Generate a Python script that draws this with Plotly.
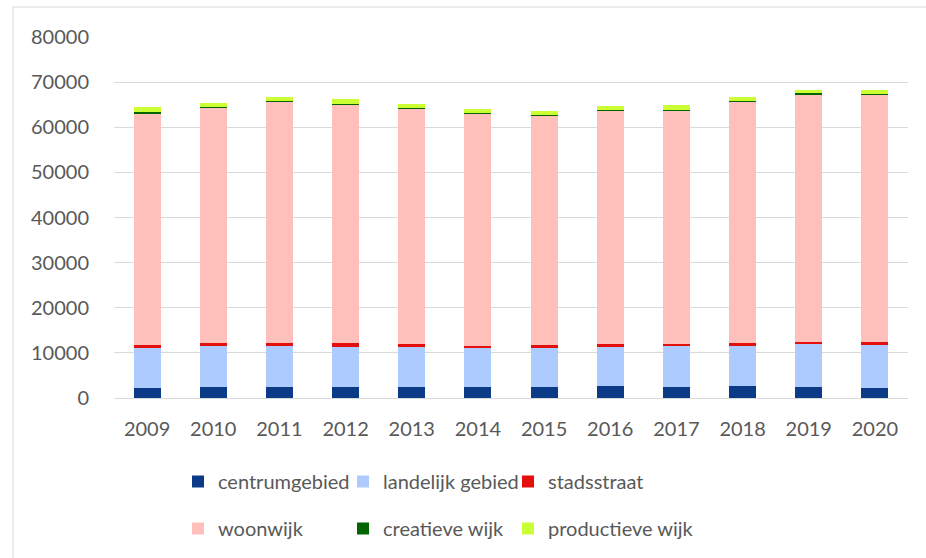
import plotly.graph_objects as go

# Jaren en waarden per gebiedstype
years = ["2009", "2010", "2011", "2012", "2013", "2014",
         "2015", "2016", "2017", "2018", "2019", "2020"]

centrumgebied = [2200, 2350, 2350, 2350, 2350, 2350, 2420, 2570, 2500, 2570, 2500, 2280]
landelijk_gebied = [8900, 9100, 9100, 9030, 8890, 8670, 8680, 8890, 8960, 9030, 9480, 9410]
stadsstraat = [700, 660, 660, 740, 660, 580, 590, 440, 590, 520, 510, 650]
woonwijk = [51340, 52240, 53570, 52990, 52240, 51510, 50980, 51880, 51730, 53660, 54840, 54990]
creatieve_wijk = [150, 100, 100, 100, 100, 150, 150, 100, 100, 100, 200, 100]
productieve_wijk = [1100, 1000, 950, 1000, 950, 800, 870, 850, 1080, 850, 700, 790]

# legenda in 3 kolommen (elke kolom een eigen verticale legenda)
series = [
    ("centrumgebied", centrumgebied, "#0B3A87", "legend"),
    ("landelijk gebied", landelijk_gebied, "#ADCBFF", "legend2"),
    ("stadsstraat", stadsstraat, "#E3100D", "legend3"),
    ("woonwijk", woonwijk, "#FFC0BB", "legend"),
    ("creatieve wijk", creatieve_wijk, "#006400", "legend2"),
    ("productieve wijk", productieve_wijk, "#CCFF33", "legend3"),
]

W, H = 926, 558
ml, mr, mt, mb = 114, 18, 37, 160
pw, ph = W - ml - mr, H - mt - mb

fig = go.Figure()
for name, vals, color, leg in series:
    fig.add_trace(go.Bar(
        x=years, y=vals, name=name,
        marker=dict(color=color, line=dict(width=0)),
        legend=leg, legendgroup=name,
    ))

font = dict(family="Lato", size=20, color="#595959")
leg_common = dict(
    orientation="v", xref="container", yref="container",
    xanchor="left", yanchor="middle", y=1 - 505 / H,
    itemwidth=30, font=font, bgcolor="rgba(0,0,0,0)",
    traceorder="grouped", tracegroupgap=18,
)

fig.update_layout(
    width=W, height=H,
    barmode="stack",
    bargap=0.59,
    plot_bgcolor="white",
    paper_bgcolor="white",
    font=font,
    margin=dict(l=ml, r=mr, t=mt, b=mb, autoexpand=False),
    xaxis=dict(
        showgrid=False, showline=False, ticks="",
        ticklabelstandoff=17, tickfont=font,
    ),
    yaxis=dict(
        range=[0, 80000], dtick=10000, tickformat="d",
        showgrid=True, gridcolor="#D9D9D9", gridwidth=1,
        zeroline=True, zerolinecolor="#D9D9D9", zerolinewidth=1,
        showline=False, ticks="", ticklabelstandoff=24, tickfont=font,
    ),
    legend=dict(x=178 / W, **leg_common),
    legend2=dict(x=343 / W, **leg_common),
    legend3=dict(x=508 / W, **leg_common),
    shapes=[dict(
        type="rect", xref="paper", yref="paper", layer="below",
        x0=(13 - ml) / pw, x1=(W + 5 - ml) / pw,
        y0=(mt + ph - H - 5) / ph, y1=(mt + ph - 7) / ph,
        line=dict(color="#D9D9D9", width=1), fillcolor="rgba(0,0,0,0)",
    )],
)

# Standaard body-marge van de pagina weghalen
fig.write_html("out.html", config={"displayModeBar": False},
               post_script="document.body.style.margin='0';")
